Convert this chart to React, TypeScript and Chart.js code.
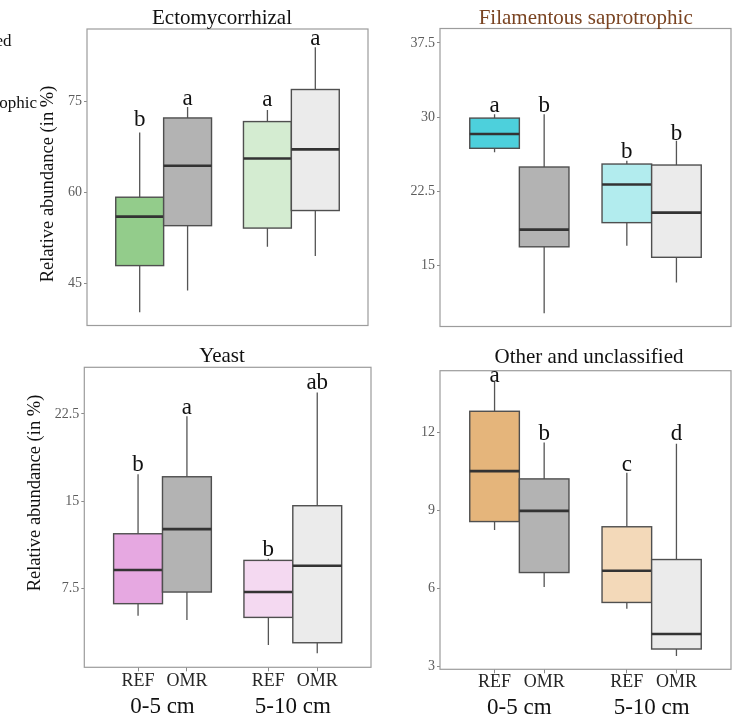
import React, { useEffect, useRef } from "react";
import { Chart, registerables } from "chart.js";

Chart.register(...registerables);

const FONT = "'Liberation Serif', 'Times New Roman', serif";

// ---------- data ----------
const DEPTHS = ["0-5 cm", "5-10 cm"];
const TREATMENTS = ["REF", "OMR"];
// box order: REF 0-5, OMR 0-5, REF 5-10, OMR 5-10

const ectoLow = [40.2, 43.8, 51.0, 49.5];
const ectoQ1 = [47.9, 54.5, 54.1, 57.0];
const ectoMedian = [56.0, 64.4, 65.6, 67.1];
const ectoQ3 = [59.2, 72.3, 71.7, 77.0];
const ectoHigh = [69.9, 74.1, 73.6, 84.0];
const ectoLetters = ["b", "a", "a", "a"];
const ectoLetterY = [70.9, 74.4, 74.2, 84.4];
const ectoTicks = [45, 60, 75];
const ectoRange = [38.0, 87.0];

const filLow = [26.45, 10.2, 17.0, 13.3];
const filQ1 = [26.85, 16.9, 19.34, 15.84];
const filMedian = [28.3, 18.64, 23.2, 20.35];
const filQ3 = [29.9, 24.96, 25.26, 25.16];
const filHigh = [30.3, 30.3, 25.6, 27.6];
const filLetters = ["a", "b", "b", "b"];
const filLetterY = [30.56, 30.56, 25.87, 27.7];
const filTicks = [15, 22.5, 30, 37.5];
const filRange = [8.85, 38.95];

const yeastLow = [5.15, 4.78, 2.63, 1.91];
const yeastQ1 = [6.18, 7.18, 5.0, 2.82];
const yeastMedian = [9.07, 12.59, 7.18, 9.44];
const yeastQ3 = [12.19, 17.09, 9.9, 14.6];
const yeastHigh = [17.3, 22.3, 10.04, 24.33];
const yeastLetters = ["b", "a", "b", "ab"];
const yeastLetterY = [17.55, 22.45, 10.32, 24.62];
const yeastTicks = [7.5, 15, 22.5];
const yeastRange = [0.71, 26.5];

const otherLow = [8.26, 6.06, 5.23, 3.41];
const otherQ1 = [8.58, 6.62, 5.47, 3.68];
const otherMedian = [10.52, 8.99, 6.69, 4.26];
const otherQ3 = [12.82, 10.22, 8.38, 7.12];
const otherHigh = [13.96, 11.62, 10.46, 11.57];
const otherLetters = ["a", "b", "c", "d"];
const otherLetterY = [13.95, 11.72, 10.54, 11.72];
const otherTicks = [3, 6, 9, 12];
const otherRange = [2.9, 14.38];

const DODGE = 0.1875; // half of the dodge width (0.75 / 4)

type Rect = { x: number; y: number; w: number; h: number };
type Frame = { l: number; t: number; r: number; b: number };

type PanelSpec = {
  title: string;
  titleColor: string;
  titleX: number;
  titleBase: number;
  low: number[];
  q1: number[];
  median: number[];
  q3: number[];
  high: number[];
  letters: string[];
  letterY: number[];
  ticks: number[];
  range: number[];
  fills: string[];
  canvas: Rect;
  frame: Frame;
  yTitle?: { x: number; y: number };
  showX: boolean;
  xPad: number;
  x2Pad: number;
  fragments?: { text: string; x: number; y: number }[];
};

const panels: PanelSpec[] = [
  {
    title: "Ectomycorrhizal",
    titleColor: "#111111",
    titleX: 222,
    titleBase: 23.5,
    low: ectoLow,
    q1: ectoQ1,
    median: ectoMedian,
    q3: ectoQ3,
    high: ectoHigh,
    letters: ectoLetters,
    letterY: ectoLetterY,
    ticks: ectoTicks,
    range: ectoRange,
    fills: ["#93CC8B", "#B3B3B3", "#D4ECD1", "#EBEBEB"],
    canvas: { x: 0, y: 0, w: 376, h: 340 },
    frame: { l: 87, t: 29, r: 368, b: 325.5 },
    yTitle: { x: 48.5, y: 184 },
    showX: false,
    xPad: 0,
    x2Pad: 0,
    fragments: [
      { text: "ed", x: 11.5, y: 46 },
      { text: "ophic", x: 37, y: 107.5 },
    ],
  },
  {
    title: "Filamentous saprotrophic",
    titleColor: "#7A4422",
    titleX: 585.7,
    titleBase: 23.5,
    low: filLow,
    q1: filQ1,
    median: filMedian,
    q3: filQ3,
    high: filHigh,
    letters: filLetters,
    letterY: filLetterY,
    ticks: filTicks,
    range: filRange,
    fills: ["#4DD0DC", "#B3B3B3", "#B2ECEE", "#EBEBEB"],
    canvas: { x: 376, y: 0, w: 357, h: 340 },
    frame: { l: 440, t: 28.5, r: 731, b: 326.5 },
    showX: false,
    xPad: 0,
    x2Pad: 0,
  },
  {
    title: "Yeast",
    titleColor: "#111111",
    titleX: 222,
    titleBase: 361.7,
    low: yeastLow,
    q1: yeastQ1,
    median: yeastMedian,
    q3: yeastQ3,
    high: yeastHigh,
    letters: yeastLetters,
    letterY: yeastLetterY,
    ticks: yeastTicks,
    range: yeastRange,
    fills: ["#E6A8E1", "#B3B3B3", "#F4D9F1", "#EBEBEB"],
    canvas: { x: 0, y: 340, w: 376, h: 383 },
    frame: { l: 84.3, t: 367.3, r: 371, b: 667.3 },
    yTitle: { x: 35, y: 493 },
    showX: true,
    xPad: 1,
    x2Pad: 3.7,
  },
  {
    title: "Other and unclassified",
    titleColor: "#111111",
    titleX: 589,
    titleBase: 363.3,
    low: otherLow,
    q1: otherQ1,
    median: otherMedian,
    q3: otherQ3,
    high: otherHigh,
    letters: otherLetters,
    letterY: otherLetterY,
    ticks: otherTicks,
    range: otherRange,
    fills: ["#E5B57B", "#B3B3B3", "#F3D9B9", "#EBEBEB"],
    canvas: { x: 376, y: 340, w: 357, h: 383 },
    frame: { l: 440, t: 370.7, r: 731, b: 669.3 },
    showX: true,
    xPad: 0,
    x2Pad: 3.5,
  },
];

const X_AXIS_H = 24;
const X2_AXIS_H = 26;

function boxPosition(i: number) {
  const group = Math.floor(i / 2) + 1;
  return group + (i % 2 === 0 ? -DODGE : DODGE);
}

function BoxPanel({ spec }: { spec: PanelSpec }) {
  const ref = useRef<HTMLCanvasElement>(null);

  useEffect(() => {
    const canvas = ref.current;
    if (!canvas) return;
    const s = spec;
    const c = s.canvas;
    const areaLeft = s.frame.l - c.x;
    const areaTop = s.frame.t - c.y;
    const areaRight = s.frame.r - c.x;
    const areaBottom = s.frame.b - c.y;
    const xH = s.showX ? X_AXIS_H : 0;
    const x2H = s.showX ? X2_AXIS_H : 0;
    const positions = s.median.map((_, i) => boxPosition(i));

    const boxPlugin = {
      id: "boxplots",
      afterDatasetsDraw(chart: any) {
        const { ctx, chartArea: a } = chart;
        const xs = chart.scales.x;
        const ys = chart.scales.y;
        ctx.save();
        // panel frame
        ctx.strokeStyle = "#9c9c9c";
        ctx.lineWidth = 1.2;
        ctx.strokeRect(a.left, a.top, a.right - a.left, a.bottom - a.top);

        s.median.forEach((med, i) => {
          const xc = positions[i];
          const xl = xs.getPixelForValue(xc - DODGE);
          const xr = xs.getPixelForValue(xc + DODGE);
          const xm = xs.getPixelForValue(xc);
          const yLow = ys.getPixelForValue(s.low[i]);
          const yQ1 = ys.getPixelForValue(s.q1[i]);
          const yMed = ys.getPixelForValue(med);
          const yQ3 = ys.getPixelForValue(s.q3[i]);
          const yHigh = ys.getPixelForValue(s.high[i]);

          // whiskers
          ctx.strokeStyle = "#555555";
          ctx.lineWidth = 1.3;
          ctx.beginPath();
          ctx.moveTo(xm, yHigh);
          ctx.lineTo(xm, yQ3);
          ctx.moveTo(xm, yQ1);
          ctx.lineTo(xm, yLow);
          ctx.stroke();

          // box
          ctx.fillStyle = s.fills[i];
          ctx.fillRect(xl, yQ3, xr - xl, yQ1 - yQ3);
          ctx.strokeStyle = "#4f4f4f";
          ctx.lineWidth = 1.4;
          ctx.strokeRect(xl, yQ3, xr - xl, yQ1 - yQ3);

          // median
          ctx.strokeStyle = "#333333";
          ctx.lineWidth = 2.6;
          ctx.beginPath();
          ctx.moveTo(xl, yMed);
          ctx.lineTo(xr, yMed);
          ctx.stroke();
        });

        // significance letters
        ctx.fillStyle = "#111111";
        ctx.font = `23px ${FONT}`;
        ctx.textAlign = "center";
        ctx.textBaseline = "alphabetic";
        s.letters.forEach((l, i) => {
          ctx.fillText(l, xs.getPixelForValue(positions[i]), ys.getPixelForValue(s.letterY[i]));
        });
        ctx.restore();
      },
      afterDraw(chart: any) {
        const { ctx } = chart;
        ctx.save();
        ctx.textBaseline = "alphabetic";
        ctx.textAlign = "center";
        ctx.fillStyle = s.titleColor;
        ctx.font = `21px ${FONT}`;
        ctx.fillText(s.title, s.titleX - c.x, s.titleBase - c.y);

        if (s.yTitle) {
          ctx.save();
          ctx.translate(s.yTitle.x - c.x, s.yTitle.y - c.y);
          ctx.rotate(-Math.PI / 2);
          ctx.fillStyle = "#111111";
          ctx.font = `18.5px ${FONT}`;
          ctx.textAlign = "center";
          ctx.textBaseline = "middle";
          ctx.fillText("Relative abundance (in %)", 0, 0);
          ctx.restore();
        }
        if (s.fragments) {
          ctx.fillStyle = "#111111";
          ctx.font = `17px ${FONT}`;
          ctx.textAlign = "right";
          s.fragments.forEach((f) => ctx.fillText(f.text, f.x - c.x, f.y - c.y));
        }
        ctx.restore();
      },
    };

    const chart = new Chart(canvas, {
      type: "scatter",
      data: {
        datasets: TREATMENTS.map((t, ti) => ({
          label: t,
          data: [0, 1].map((g) => ({ x: positions[g * 2 + ti], y: s.median[g * 2 + ti] })),
          pointRadius: 0,
          pointHoverRadius: 0,
        })),
      },
      options: {
        animation: false,
        responsive: false,
        devicePixelRatio: 1,
        events: [],
        layout: {
          padding: {
            left: 0,
            top: areaTop,
            right: c.w - areaRight,
            bottom: c.h - areaBottom - xH - x2H,
          },
        },
        plugins: {
          legend: { display: false },
          tooltip: { enabled: false },
          title: { display: false },
        },
        scales: {
          x: {
            type: "linear",
            position: "bottom",
            min: 0.4,
            max: 2.6,
            bounds: "data",
            display: s.showX,
            afterBuildTicks: (axis: any) => {
              axis.ticks = positions.map((v) => ({ value: v }));
            },
            afterFit: (axis: any) => {
              axis.height = xH;
            },
            ticks: {
              autoSkip: false,
              maxRotation: 0,
              minRotation: 0,
              padding: s.xPad,
              color: "#262626",
              font: { family: FONT, size: 18, lineHeight: 1 },
              callback: (_v: any, i: number) => TREATMENTS[i % 2],
            },
            grid: {
              display: true,
              drawOnChartArea: false,
              drawTicks: true,
              tickLength: 4,
              color: "#8a8a8a",
            },
            border: { display: false },
          },
          x2: {
            type: "linear",
            position: "bottom",
            min: 0.4,
            max: 2.6,
            bounds: "data",
            display: s.showX,
            afterBuildTicks: (axis: any) => {
              axis.ticks = DEPTHS.map((_, g) => ({ value: g + 1 }));
            },
            afterFit: (axis: any) => {
              axis.height = x2H;
            },
            ticks: {
              autoSkip: false,
              maxRotation: 0,
              minRotation: 0,
              padding: s.x2Pad,
              color: "#111111",
              font: { family: FONT, size: 23, lineHeight: 1 },
              callback: (_v: any, i: number) => DEPTHS[i],
            },
            grid: { display: false, drawTicks: false },
            border: { display: false },
          },
          y: {
            type: "linear",
            min: s.range[0],
            max: s.range[1],
            bounds: "data",
            afterBuildTicks: (axis: any) => {
              axis.ticks = s.ticks.map((v) => ({ value: v }));
            },
            afterFit: (axis: any) => {
              axis.width = areaLeft;
            },
            ticks: {
              padding: 2,
              color: "#5c5c5c",
              font: { family: FONT, size: 14 },
              callback: (v: any) => String(v),
            },
            grid: {
              display: true,
              drawOnChartArea: false,
              drawTicks: true,
              tickLength: 3,
              color: "#8a8a8a",
            },
            border: { display: false },
          },
        },
      } as any,
      plugins: [boxPlugin],
    });
    return () => chart.destroy();
  }, [spec]);

  return (
    <canvas
      ref={ref}
      width={spec.canvas.w}
      height={spec.canvas.h}
      style={{
        position: "absolute",
        left: spec.canvas.x,
        top: spec.canvas.y,
        width: spec.canvas.w,
        height: spec.canvas.h,
      }}
    />
  );
}

export default function App() {
  return (
    <div
      style={{
        position: "absolute",
        left: 0,
        top: 0,
        width: 733,
        height: 723,
        background: "#ffffff",
        overflow: "hidden",
      }}
    >
      {panels.map((p) => (
        <BoxPanel key={p.title} spec={p} />
      ))}
    </div>
  );
}
